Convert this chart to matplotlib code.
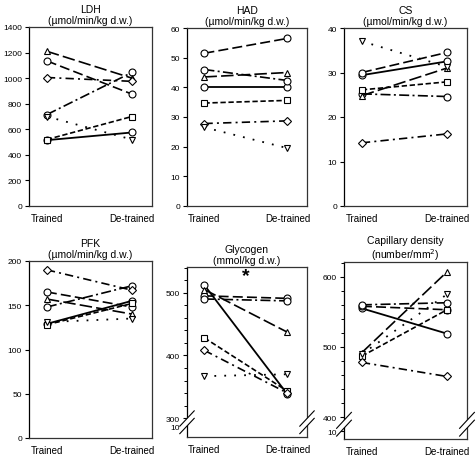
import matplotlib
matplotlib.use("Agg")
import matplotlib.pyplot as plt
import numpy as np

plt.rcParams['font.family'] = ['Liberation Sans', 'DejaVu Sans']

conditions = ["Trained", "De-trained"]

titles = ["LDH\n(µmol/min/kg d.w.)", "HAD\n(µmol/min/kg d.w.)", "CS\n(µmol/min/kg d.w.)",
          "PFK\n(µmol/min/kg d.w.)", "Glycogen\n(mmol/kg d.w.)", "Capillary density\n(number/mm$^2$)"]

# subjects: S1..S7
ldh_trained = [515, 1135, 715, 1210, 520, 1005, 700]
ldh_detrained = [575, 875, 1045, 1000, 700, 975, 520]
had_trained = [40, 51.5, 46, 43.5, 34.7, 27.8, 26.5]
had_detrained = [40, 56.5, 42.3, 45, 35.6, 28.7, 19.5]
cs_trained = [29.4, 30, 25.2, 24.8, 26.1, 14.2, 37]
cs_detrained = [32.5, 34.5, 24.6, 31, 27.9, 16.2, 31.3]
pfk_trained = [129, 165, 148, 157, 128, 190, 131]
pfk_detrained = [155, 148, 172, 140, 152, 167, 135]
gly_trained = [512, 495, 490, 505, 428, 408, 367]
gly_detrained = [338, 491, 487, 437, 343, 340, 370]
cap_trained = [555, 558, 560, 492, 487, 478, 490]
cap_detrained = [519, 553, 563, 607, 553, 458, 575]

ldh_ticks = [0, 200, 400, 600, 800, 1000, 1200, 1400]
had_ticks = [0, 10, 20, 30, 40, 50, 60]
cs_ticks = [0, 10, 20, 30, 40]
pfk_ticks = [0, 50, 100, 150, 200]
gly_ticks = [300, 400, 500]
cap_ticks = [400, 500, 600]
break_label = "10"

markers = ['o', 'o', 'o', '^', 's', 'D', 'v']
msizes = [5.0, 5.0, 5.0, 5.0, 4.4, 4.0, 5.0]
lstyles = ['-', (0, (6, 2.5)), (0, (6, 2, 1.2, 2)), (0, (7.5, 2.5)), (0, (3.2, 1.6)),
           (0, (5, 2.5, 1.2, 2.5)), (0, (1, 4.5))]
lwidths = [1.3, 1.2, 1.2, 1.2, 1.2, 1.2, 1.3]

W, H = 476, 460
fig = plt.figure(figsize=(W / 100, H / 100), dpi=100)

def ax_at(l, r, t, b):
    return fig.add_axes([l / W, 1 - b / H, (r - l) / W, (b - t) / H])

boxes = [(29, 152, 28, 207), (187, 307, 29, 207), (344, 467, 29, 207),
         (29, 152, 262, 439), (187, 307, 268, 438), (344, 467, 263, 440)]
data = [(ldh_trained, ldh_detrained), (had_trained, had_detrained), (cs_trained, cs_detrained),
        (pfk_trained, pfk_detrained), (gly_trained, gly_detrained), (cap_trained, cap_detrained)]
ylims = [(0, 1400), (0, 60), (0, 40), (0, 200), (270, 541), (369, 621)]
ticks = [ldh_ticks, had_ticks, cs_ticks, pfk_ticks, gly_ticks, cap_ticks]

x = np.arange(len(conditions))
for i in range(6):
    ax = ax_at(*boxes[i])
    tr, dt = data[i]
    for s in range(len(tr)):
        ax.plot(x, [tr[s], dt[s]], color='black', linestyle=lstyles[s], lw=lwidths[s],
                marker=markers[s], ms=msizes[s], mfc='white', mec='black', mew=0.8,
                dash_capstyle='butt', zorder=3 + s * 0.01)
    ax.set_xlim(-0.21, 1.235)
    ax.set_ylim(*ylims[i])
    ax.set_xticks(x)
    ax.set_xticklabels(conditions, fontsize=7)
    ax.tick_params(axis='x', length=0, pad=5)
    ax.tick_params(axis='y', labelsize=6, length=3, width=0.8, pad=2, direction='out')
    ax.set_title(titles[i], fontsize=7.5, linespacing=1.05, pad=3)
    for sp in ax.spines.values():
        sp.set_linewidth(0.9)
        sp.set_color('#333333')
    ax.spines['left'].set_color('black')
    if i < 4:
        ax.set_yticks(ticks[i])
    else:
        lo = ylims[i][0]
        brk_val = gly_ticks[0] - 13 if i == 4 else cap_ticks[0] - 20
        tk = [brk_val] + ticks[i]
        ax.set_yticks(tk)
        ax.set_yticklabels([break_label] + [str(t) for t in ticks[i]])
        ax.set_yticks(np.arange(ticks[i][0], ylims[i][1], 20), minor=True)
        ax.tick_params(axis='y', which='minor', length=2, width=0.7)
        # break marks
        yb = (brk_val + ticks[i][0]) / 2
        yfrac = (yb - lo) / (ylims[i][1] - lo)
        d, dx, dy = 0.022, 0.06, 0.045
        for xs in (0, 1):
            ax.fill([xs - dx, xs + dx, xs + dx, xs - dx],
                    [yfrac - d - dy, yfrac - d + dy, yfrac + d + dy, yfrac + d - dy],
                    transform=ax.transAxes, color='white', clip_on=False, zorder=10, lw=0)
            for dd in (-d, d):
                ax.plot([xs - dx, xs + dx], [yfrac + dd - dy, yfrac + dd + dy],
                        transform=ax.transAxes, color='black', lw=0.8, clip_on=False, zorder=11)
    if i == 4:
        ax.text(0.5, 527, "*", ha='center', va='center', fontsize=14, fontweight='bold')

fig.savefig("out.png", dpi=100)
